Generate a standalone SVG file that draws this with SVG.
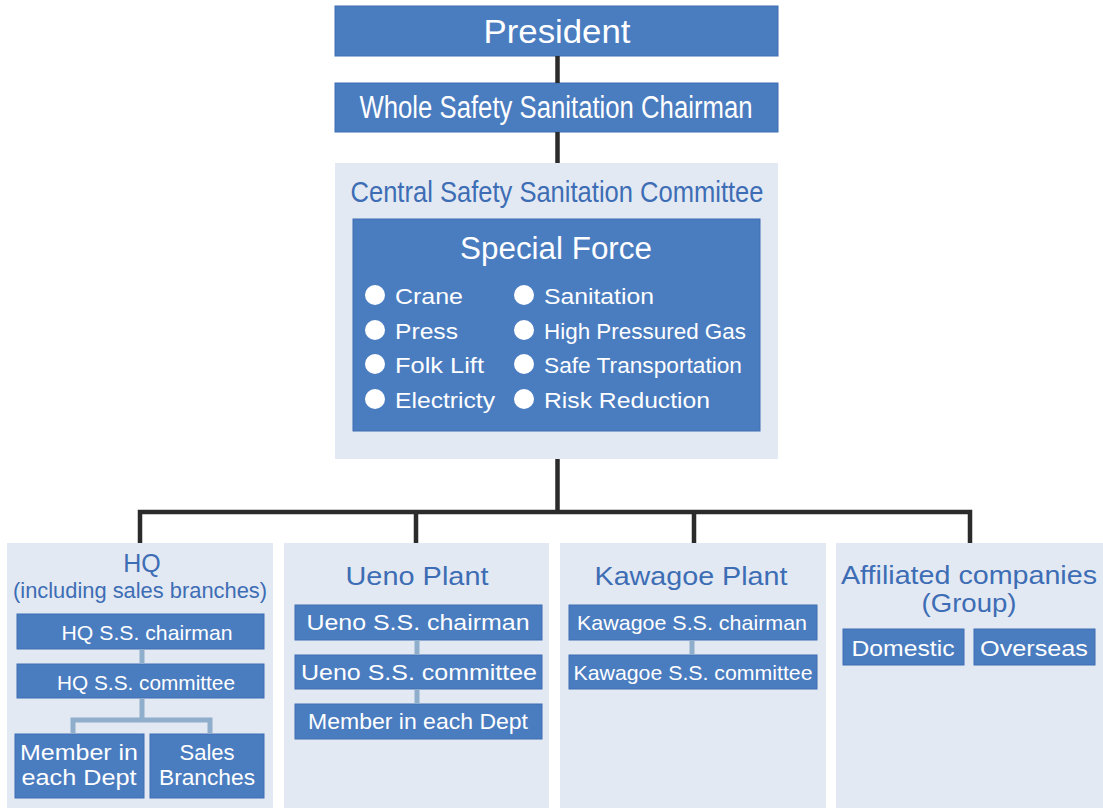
<svg xmlns="http://www.w3.org/2000/svg" width="1103" height="808" viewBox="0 0 1103 808">
<style>
.panel{fill:#e3e9f2}
.box{fill:#4a7cc0;stroke:#3f6fb3;stroke-width:1}
.wt{fill:#ffffff;font-family:"Liberation Sans",Arial,sans-serif;text-anchor:middle}
.bt{fill:#3d6db5;font-family:"Liberation Sans",Arial,sans-serif;text-anchor:middle}
.lt{fill:#ffffff;font-family:"Liberation Sans",Arial,sans-serif;font-size:22px}
.dark{stroke:#2b2b2b;stroke-width:4.5;fill:none}
.light{stroke:#8eaecb;stroke-width:5;fill:none}
.dot{fill:#ffffff}
</style>
<rect width="1103" height="808" fill="#ffffff"/>
<g id="president">
<rect class="box" x="335" y="6" width="443" height="50"/>
<text class="wt" x="557" y="43" font-size="33" textLength="147" lengthAdjust="spacingAndGlyphs">President</text>
</g>
<g id="chairman">
<rect class="box" x="335" y="83" width="443" height="49"/>
<text class="wt" x="556" y="118" font-size="31" textLength="393" lengthAdjust="spacingAndGlyphs">Whole Safety Sanitation Chairman</text>
</g>
<g id="central">
<rect class="panel" x="335" y="163" width="443" height="296"/>
<text class="bt" x="557" y="202" font-size="30" textLength="413" lengthAdjust="spacingAndGlyphs">Central Safety Sanitation Committee</text>
</g>
<g id="special-force">
<rect class="box" x="353" y="219" width="407" height="212"/>
<text class="wt" x="556" y="259" font-size="31" textLength="192" lengthAdjust="spacingAndGlyphs">Special Force</text>
<circle class="dot" cx="375" cy="295" r="10"/>
<circle class="dot" cx="375" cy="330" r="10"/>
<circle class="dot" cx="375" cy="364" r="10"/>
<circle class="dot" cx="375" cy="399" r="10"/>
<circle class="dot" cx="524" cy="295" r="10"/>
<circle class="dot" cx="524" cy="330" r="10"/>
<circle class="dot" cx="524" cy="364" r="10"/>
<circle class="dot" cx="524" cy="399" r="10"/>
<text class="lt" x="395" y="304" textLength="68" lengthAdjust="spacingAndGlyphs">Crane</text>
<text class="lt" x="395" y="339" textLength="63" lengthAdjust="spacingAndGlyphs">Press</text>
<text class="lt" x="395" y="373" textLength="89" lengthAdjust="spacingAndGlyphs">Folk Lift</text>
<text class="lt" x="395" y="408" textLength="100" lengthAdjust="spacingAndGlyphs">Electricty</text>
<text class="lt" x="544" y="304" textLength="110" lengthAdjust="spacingAndGlyphs">Sanitation</text>
<text class="lt" x="544" y="339" textLength="202" lengthAdjust="spacingAndGlyphs">High Pressured Gas</text>
<text class="lt" x="544" y="373" textLength="198" lengthAdjust="spacingAndGlyphs">Safe Transportation</text>
<text class="lt" x="544" y="408" textLength="166" lengthAdjust="spacingAndGlyphs">Risk Reduction</text>
</g>
<g id="hq">
<rect class="panel" x="7" y="543" width="266" height="265"/>
<text class="bt" x="142" y="572" font-size="25">HQ</text>
<text class="bt" x="140" y="598" font-size="22" textLength="254" lengthAdjust="spacingAndGlyphs">(including sales branches)</text>
</g>
<g id="hq-chairman">
<rect class="box" x="17" y="614" width="247" height="35"/>
<text class="wt" x="147" y="640" font-size="21" textLength="171" lengthAdjust="spacingAndGlyphs">HQ S.S. chairman</text>
</g>
<g id="hq-committee">
<rect class="box" x="17" y="664" width="247" height="34"/>
<text class="wt" x="146" y="690" font-size="21" textLength="178" lengthAdjust="spacingAndGlyphs">HQ S.S. committee</text>
</g>
<g id="hq-member">
<rect class="box" x="15" y="734" width="129" height="64"/>
<text class="wt" x="79" y="760" font-size="22" textLength="118" lengthAdjust="spacingAndGlyphs">Member in</text>
<text class="wt" x="79" y="785" font-size="22" textLength="115" lengthAdjust="spacingAndGlyphs">each Dept</text>
</g>
<g id="hq-sales">
<rect class="box" x="150" y="734" width="114" height="64"/>
<text class="wt" x="207" y="760" font-size="22">Sales</text>
<text class="wt" x="207" y="785" font-size="22" textLength="96" lengthAdjust="spacingAndGlyphs">Branches</text>
</g>
<g id="ueno">
<rect class="panel" x="284" y="543" width="265" height="265"/>
<text class="bt" x="417" y="585" font-size="26" textLength="143" lengthAdjust="spacingAndGlyphs">Ueno Plant</text>
</g>
<g id="ueno-chairman">
<rect class="box" x="295" y="605" width="247" height="35"/>
<text class="wt" x="418" y="630" font-size="22" textLength="223" lengthAdjust="spacingAndGlyphs">Ueno S.S. chairman</text>
</g>
<g id="ueno-committee">
<rect class="box" x="295" y="655" width="247" height="34"/>
<text class="wt" x="419" y="680" font-size="22" textLength="236" lengthAdjust="spacingAndGlyphs">Ueno S.S. committee</text>
</g>
<g id="ueno-member">
<rect class="box" x="295" y="704" width="247" height="35"/>
<text class="wt" x="418" y="729" font-size="22" textLength="220" lengthAdjust="spacingAndGlyphs">Member in each Dept</text>
</g>
<g id="kawagoe">
<rect class="panel" x="560" y="543" width="266" height="265"/>
<text class="bt" x="691" y="585" font-size="26" textLength="193" lengthAdjust="spacingAndGlyphs">Kawagoe Plant</text>
</g>
<g id="kawagoe-chairman">
<rect class="box" x="569" y="605" width="248" height="35"/>
<text class="wt" x="692" y="630" font-size="21" textLength="230" lengthAdjust="spacingAndGlyphs">Kawagoe S.S. chairman</text>
</g>
<g id="kawagoe-committee">
<rect class="box" x="569" y="655" width="248" height="34"/>
<text class="wt" x="693" y="680" font-size="21" textLength="239" lengthAdjust="spacingAndGlyphs">Kawagoe S.S. committee</text>
</g>
<g id="affiliated">
<rect class="panel" x="836" y="543" width="267" height="265"/>
<text class="bt" x="969" y="584" font-size="25" textLength="256" lengthAdjust="spacingAndGlyphs">Affiliated companies</text>
<text class="bt" x="969" y="612" font-size="25" textLength="95" lengthAdjust="spacingAndGlyphs">(Group)</text>
</g>
<g id="domestic">
<rect class="box" x="843" y="629" width="121" height="36"/>
<text class="wt" x="903" y="656" font-size="22" textLength="103" lengthAdjust="spacingAndGlyphs">Domestic</text>
</g>
<g id="overseas">
<rect class="box" x="974" y="629" width="121" height="36"/>
<text class="wt" x="1034" y="656" font-size="22" textLength="108" lengthAdjust="spacingAndGlyphs">Overseas</text>
</g>
<g id="connectors">
<path class="dark" d="M557.5 56V83M557.5 132V163M557.5 459V512M140 543V512H970V543M416 512V543M694 512V543"/>
<path class="light" d="M142 649.5V663.5M142 698.5V720M73 733.5V720H210V733.5M417 640.5V654.5M417 689.5V703.5M692 640.5V654.5"/>
</g>
</svg>
